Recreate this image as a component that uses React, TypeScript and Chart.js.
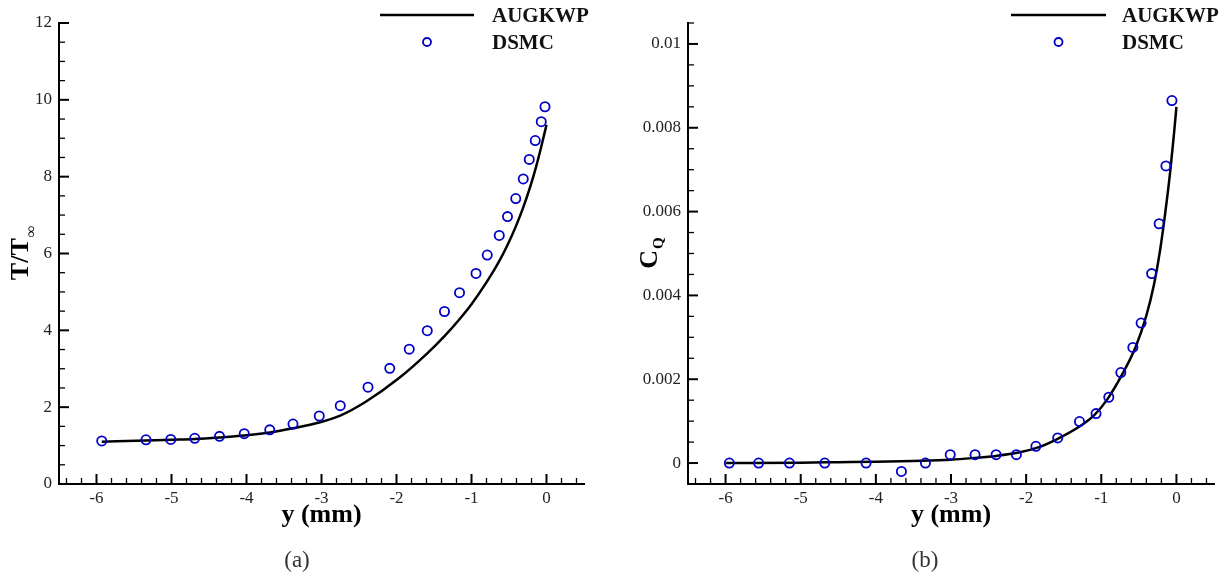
import React, { useEffect, useRef } from "react";
import { Chart, registerables } from "chart.js";
Chart.register(...registerables);

// ---------- Panel (a): temperature ----------
const tDsmcY = [-5.93, -5.34, -5.01, -4.69, -4.36, -4.03, -3.69, -3.38, -3.03, -2.75, -2.38, -2.09, -1.83, -1.59, -1.36, -1.16, -0.94, -0.79, -0.63, -0.52, -0.41, -0.31, -0.23, -0.15, -0.07, -0.02];
const tDsmcT = [1.12, 1.15, 1.16, 1.19, 1.24, 1.31, 1.41, 1.56, 1.77, 2.04, 2.52, 3.01, 3.51, 3.99, 4.49, 4.98, 5.48, 5.96, 6.47, 6.96, 7.43, 7.94, 8.45, 8.94, 9.43, 9.82];
const tAugY = [-5.93, -5.34, -5.01, -4.69, -4.36, -4.03, -3.69, -3.38, -3.03, -2.75, -2.41, -1.97, -1.59, -1.36, -1.16, -1.0, -0.79, -0.63, -0.52, -0.41, -0.31, -0.22, -0.14, -0.07, 0];
const tAugT = [1.10, 1.13, 1.15, 1.17, 1.21, 1.26, 1.34, 1.45, 1.60, 1.78, 2.14, 2.75, 3.40, 3.85, 4.29, 4.68, 5.28, 5.80, 6.22, 6.70, 7.20, 7.72, 8.25, 8.78, 9.35];
const tYTicks = [0, 2, 4, 6, 8, 10, 12];

// ---------- Panel (b): heat flux coefficient ----------
const qDsmcY = [-5.95, -5.56, -5.15, -4.68, -4.13, -3.66, -3.34, -3.01, -2.68, -2.40, -2.13, -1.87, -1.58, -1.29, -1.07, -0.90, -0.74, -0.58, -0.47, -0.33, -0.23, -0.14, -0.06];
const qDsmcC = [0, 0, 0, 0, 0, -0.0002, 0, 0.0002, 0.0002, 0.0002, 0.0002, 0.0004, 0.0006, 0.00099, 0.00118, 0.00157, 0.00216, 0.00276, 0.00334, 0.00452, 0.00571, 0.00709, 0.00865];
const qAugY = [-6, -5, -4.5, -4, -3.5, -3, -2.7, -2.4, -2.1, -1.83, -1.6, -1.29, -1.09, -0.92, -0.72, -0.54, -0.40, -0.30, -0.22, -0.15, -0.08, -0.03, 0];
const qAugC = [0, 0.00001, 0.00002, 0.00003, 0.00005, 0.00008, 0.00012, 0.00017, 0.00025, 0.00038, 0.00056, 0.00087, 0.00115, 0.00152, 0.00212, 0.00278, 0.00352, 0.00425, 0.00505, 0.00595, 0.0070, 0.0079, 0.0085];
const qYTicks = [0, 0.002, 0.004, 0.006, 0.008, 0.01];

const xTicks = [-6, -5, -4, -3, -2, -1, 0];
const seriesNames = ["AUGKWP", "DSMC"];

const SERIF = '"Liberation Serif", "Times New Roman", serif';
const BLUE = "#0000c8";

type PanelOpts = {
  width: number;
  yMin: number;
  yMax: number;
  yTicks: number[];
  yMinorStep: number;
  yAxisWidth: number;
  padRight: number;
  lineX: number[];
  lineV: number[];
  dotX: number[];
  dotV: number[];
  yMain: string;
  ySub: string;
  subSize: number;
  subDrop: number;
  yTitleX: number;
  legendX1: number;
  legendX2: number;
  legendTextX: number;
};

function makeDecor(o: PanelOpts) {
  return {
    id: "decor",
    afterDraw(chart: any) {
      const ctx: CanvasRenderingContext2D = chart.ctx;
      const xs = chart.scales.x;
      const ys = chart.scales.y;
      const ca = chart.chartArea;
      ctx.save();
      ctx.strokeStyle = "#000";
      const eps = 1e-9;
      // x ticks (inward)
      const xMinorStep = 0.2;
      for (let k = Math.ceil(xs.min / xMinorStep - eps); k <= Math.floor(xs.max / xMinorStep + eps); k++) {
        const v = k * xMinorStep;
        const isMajor = xTicks.some((t) => Math.abs(t - v) < 1e-6);
        const px = xs.getPixelForValue(v);
        ctx.lineWidth = isMajor ? 2 : 1.3;
        ctx.beginPath();
        ctx.moveTo(px, ca.bottom);
        ctx.lineTo(px, ca.bottom - (isMajor ? 10 : 6));
        ctx.stroke();
      }
      // y ticks (inward)
      const ys0 = o.yMinorStep;
      for (let k = Math.ceil(ys.min / ys0 - 1e-6); k <= Math.floor(ys.max / ys0 + 1e-6); k++) {
        const v = k * ys0;
        if (Math.abs(v - ys.min) < ys0 * 0.01) continue;
        const isMajor = o.yTicks.some((t) => Math.abs(t - v) < ys0 * 0.01);
        const py = ys.getPixelForValue(v);
        ctx.lineWidth = isMajor ? 2 : 1.3;
        ctx.beginPath();
        ctx.moveTo(ca.left, py);
        ctx.lineTo(ca.left + (isMajor ? 10 : 6), py);
        ctx.stroke();
      }
      // y-axis title with subscript
      ctx.save();
      ctx.translate(o.yTitleX, (ca.top + ca.bottom) / 2);
      ctx.rotate(-Math.PI / 2);
      ctx.fillStyle = "#000";
      ctx.textAlign = "left";
      ctx.textBaseline = "alphabetic";
      const mainFont = `bold 26px ${SERIF}`;
      const subFont = `bold ${o.subSize}px ${SERIF}`;
      ctx.font = mainFont;
      const w1 = ctx.measureText(o.yMain).width;
      ctx.font = subFont;
      const w2 = ctx.measureText(o.ySub).width;
      const start = -(w1 + w2) / 2;
      ctx.font = mainFont;
      ctx.fillText(o.yMain, start, 0);
      ctx.font = subFont;
      ctx.fillText(o.ySub, start + w1 + 1, o.subDrop);
      ctx.restore();
      // legend
      const ds0 = chart.data.datasets[0];
      const ds1 = chart.data.datasets[1];
      ctx.strokeStyle = ds0.borderColor;
      ctx.lineWidth = 2.5;
      ctx.beginPath();
      ctx.moveTo(o.legendX1, 15);
      ctx.lineTo(o.legendX2, 15);
      ctx.stroke();
      ctx.strokeStyle = ds1.pointBorderColor;
      ctx.lineWidth = 1.8;
      ctx.beginPath();
      ctx.arc((o.legendX1 + o.legendX2) / 2, 42, 4, 0, Math.PI * 2);
      ctx.stroke();
      ctx.fillStyle = "#111";
      ctx.font = `bold 21px ${SERIF}`;
      ctx.textAlign = "left";
      ctx.textBaseline = "alphabetic";
      ctx.fillText(ds0.label, o.legendTextX, 22);
      ctx.fillText(ds1.label, o.legendTextX, 49);
      ctx.restore();
    },
  };
}

function makeConfig(o: PanelOpts): any {
  return {
    type: "scatter",
    data: {
      datasets: [
        {
          label: seriesNames[0],
          data: o.lineX.map((x, i) => ({ x, y: o.lineV[i] })),
          showLine: true,
          borderColor: "#000000",
          borderWidth: 2.5,
          pointRadius: 0,
          cubicInterpolationMode: "monotone",
          fill: false,
          order: 2,
        },
        {
          label: seriesNames[1],
          data: o.dotX.map((x, i) => ({ x, y: o.dotV[i] })),
          showLine: false,
          pointStyle: "circle",
          pointRadius: 4.6,
          pointBorderWidth: 1.8,
          pointBorderColor: BLUE,
          pointBackgroundColor: "rgba(0,0,0,0)",
          borderColor: BLUE,
          backgroundColor: "rgba(0,0,0,0)",
          order: 1,
        },
      ],
    },
    options: {
      animation: false,
      responsive: false,
      maintainAspectRatio: false,
      layout: { padding: { left: 0, top: 23, right: o.padRight, bottom: 47 } },
      plugins: { legend: { display: false }, tooltip: { enabled: false }, title: { display: false } },
      scales: {
        x: {
          type: "linear",
          min: -6.5,
          max: 0.5,
          afterBuildTicks: (s: any) => {
            s.ticks = xTicks.map((v) => ({ value: v }));
          },
          afterFit: (s: any) => {
            s.height = 44;
          },
          grid: { display: false, drawTicks: false },
          border: { display: true, color: "#000", width: 2 },
          ticks: {
            autoSkip: false,
            maxRotation: 0,
            padding: 4,
            color: "#222",
            font: { family: SERIF, size: 17 },
            callback: (v: any) => String(v),
          },
          title: {
            display: true,
            text: "y (mm)",
            color: "#000",
            padding: 0,
            font: { family: SERIF, size: 26, weight: "bold", lineHeight: 1 },
          },
        },
        y: {
          type: "linear",
          min: o.yMin,
          max: o.yMax,
          afterBuildTicks: (s: any) => {
            s.ticks = o.yTicks.map((v) => ({ value: v }));
          },
          afterFit: (s: any) => {
            s.width = o.yAxisWidth;
          },
          grid: { display: false, drawTicks: false },
          border: { display: true, color: "#000", width: 2 },
          ticks: {
            autoSkip: false,
            padding: 7,
            color: "#222",
            font: { family: SERIF, size: 17 },
            callback: (v: any) => String(v),
          },
          title: { display: false },
        },
      },
    },
    plugins: [makeDecor(o)],
  };
}

function Panel({ left, opts }: { left: number; opts: PanelOpts }) {
  const ref = useRef<HTMLCanvasElement | null>(null);
  useEffect(() => {
    if (!ref.current) return;
    const chart = new Chart(ref.current, makeConfig(opts));
    return () => chart.destroy();
  }, []);
  return (
    <canvas
      ref={ref}
      width={opts.width}
      height={575}
      style={{ position: "absolute", left, top: 0, width: opts.width, height: 575 }}
    />
  );
}

const panelA: PanelOpts = {
  width: 615,
  yMin: 0,
  yMax: 12,
  yTicks: tYTicks,
  yMinorStep: 0.5,
  yAxisWidth: 59,
  padRight: 31,
  lineX: tAugY,
  lineV: tAugT,
  dotX: tDsmcY,
  dotV: tDsmcT,
  yMain: "T/T",
  ySub: "\u221e",
  subSize: 16,
  subDrop: 8,
  yTitleX: 28,
  legendX1: 380,
  legendX2: 474,
  legendTextX: 492,
};

const panelB: PanelOpts = {
  width: 616,
  yMin: -0.0005,
  yMax: 0.0105,
  yTicks: qYTicks,
  yMinorStep: 0.0005,
  yAxisWidth: 73,
  padRight: 17,
  lineX: qAugY,
  lineV: qAugC,
  dotX: qDsmcY,
  dotV: qDsmcC,
  yMain: "C",
  ySub: "Q",
  subSize: 15,
  subDrop: 6,
  yTitleX: 42,
  legendX1: 396,
  legendX2: 491,
  legendTextX: 507,
};

const captionStyle: React.CSSProperties = {
  position: "absolute",
  top: 547,
  width: 60,
  height: 26,
  lineHeight: "26px",
  textAlign: "center",
  fontFamily: SERIF,
  fontSize: 23,
  color: "#333",
};

export default function App() {
  return (
    <div style={{ position: "absolute", left: 0, top: 0, width: 1231, height: 575, background: "#fff", overflow: "hidden" }}>
      <Panel left={0} opts={panelA} />
      <Panel left={615} opts={panelB} />
      <div style={{ ...captionStyle, left: 297 - 30 }}>(a)</div>
      <div style={{ ...captionStyle, left: 925 - 30 }}>(b)</div>
    </div>
  );
}
